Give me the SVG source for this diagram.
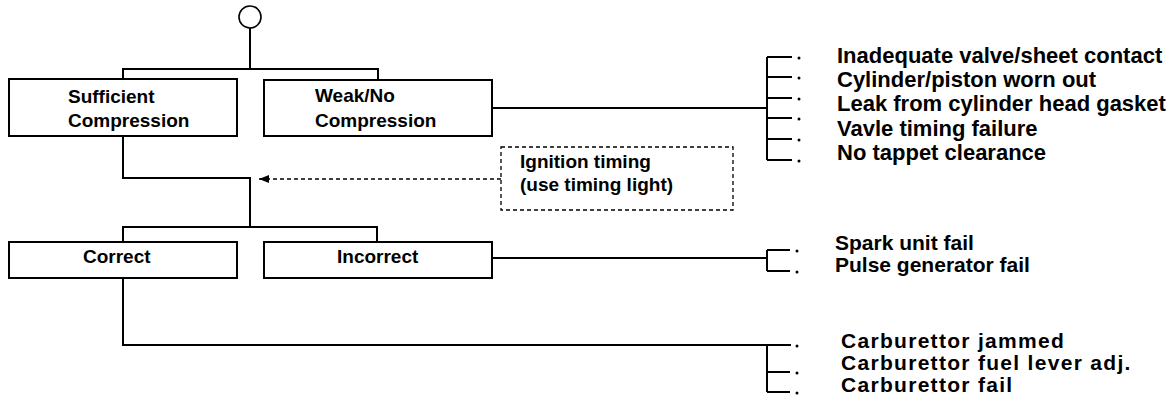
<svg xmlns="http://www.w3.org/2000/svg" width="1176" height="410" viewBox="0 0 1176 410">
<defs>
<style>
.box{fill:#fff;stroke:#000;stroke-width:2}
.ln{fill:none;stroke:#000;stroke-width:2}
.dash{fill:none;stroke:#000;stroke-width:1.3;stroke-dasharray:4 3}
.t{font-family:"Liberation Sans",Arial,sans-serif;font-weight:bold;fill:#000}
.b{font-size:19px}
.l1{font-size:22px}
.l2{font-size:21px}
.l3{font-size:21px;letter-spacing:1.3px}
.dot{fill:#000}
</style>
<marker id="ah" viewBox="0 0 10 8" refX="10" refY="4" markerWidth="10" markerHeight="8" markerUnits="userSpaceOnUse" orient="auto">
<path d="M0,0 L10,4 L0,8 Z" fill="#000"/>
</marker>
</defs>
<rect width="1176" height="410" fill="#fff"/>
<g id="connectors">
<circle cx="250" cy="17" r="11" fill="#fff" stroke="#000" stroke-width="1.6"/>
<path class="ln" d="M250,28 V69 M123,79 V69 H378 V79"/>
<path class="ln" d="M123,136 V178 H250 V227 M123,242 V227 H377 V242"/>
<path class="dash" d="M501,179 H259" marker-end="url(#ah)"/>
<path class="ln" d="M492,108 H767 M767,57 V160 M767,57 H792 M767,77 H792 M767,98 H792 M767,118 H792 M767,139 H792 M767,160 H792"/>
<g class="dot"><circle cx="799" cy="58" r="1.5"/><circle cx="799" cy="78" r="1.5"/><circle cx="799" cy="99" r="1.5"/><circle cx="799" cy="119" r="1.5"/><circle cx="799" cy="140" r="1.5"/><circle cx="799" cy="161" r="1.5"/></g>
<path class="ln" d="M492,258 H767 M767,250 V271 M767,250 H790 M767,271 H790"/>
<g class="dot"><circle cx="797" cy="251" r="1.5"/><circle cx="797" cy="272" r="1.5"/></g>
<path class="ln" d="M123,278 V345 H791 M767,345 V392 M767,372 H790 M767,392 H790"/>
<g class="dot"><circle cx="797" cy="346" r="1.5"/><circle cx="797" cy="373" r="1.5"/><circle cx="797" cy="393" r="1.5"/></g>
</g>
<g id="sufficient">
<rect class="box" x="9" y="79" width="228" height="57"/>
<text class="t b" x="68" y="103">Sufficient</text>
<text class="t b" x="68" y="127">Compression</text>
</g>
<g id="weak">
<rect class="box" x="264" y="80" width="228" height="56"/>
<text class="t b" x="315" y="102">Weak/No</text>
<text class="t b" x="315" y="127">Compression</text>
</g>
<g id="ignition">
<rect class="dash" x="501" y="147" width="232" height="63"/>
<text class="t b" x="520" y="168">Ignition timing</text>
<text class="t b" x="520" y="191">(use timing light)</text>
</g>
<g id="correct">
<rect class="box" x="9" y="242" width="228" height="36"/>
<text class="t b" x="83" y="263">Correct</text>
</g>
<g id="incorrect">
<rect class="box" x="264" y="242" width="228" height="36"/>
<text class="t b" x="337" y="263">Incorrect</text>
</g>
<g id="compression-causes">
<text class="t l1" x="837" y="63">Inadequate valve/sheet contact</text>
<text class="t l1" x="837" y="87">Cylinder/piston worn out</text>
<text class="t l1" x="837" y="111">Leak from cylinder head gasket</text>
<text class="t l1" x="837" y="136">Vavle timing failure</text>
<text class="t l1" x="837" y="160">No tappet clearance</text>
</g>
<g id="ignition-causes">
<text class="t l2" x="835" y="250">Spark unit fail</text>
<text class="t l2" x="835" y="272">Pulse generator fail</text>
</g>
<g id="carburettor-causes">
<text class="t l3" x="841" y="348">Carburettor jammed</text>
<text class="t l3" x="841" y="370">Carburettor fuel lever adj.</text>
<text class="t l3" x="841" y="392">Carburettor fail</text>
</g>
</svg>
